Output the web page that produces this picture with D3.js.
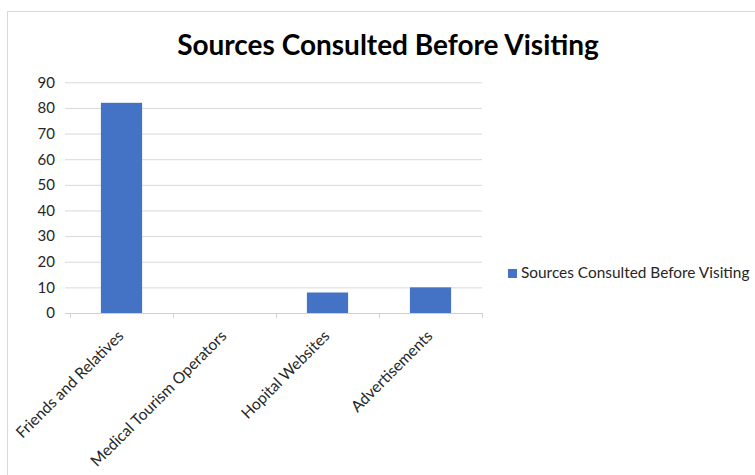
<!DOCTYPE html>
<html>
<head>
<meta charset="utf-8">
<script src="https://cdn.jsdelivr.net/npm/d3@7"></script>
<style>
  html, body { margin: 0; padding: 0; background: #fff; }
  svg { display: block; font-family: Lato, "Open Sans", sans-serif; }
</style>
</head>
<body>
<svg id="chart" width="755" height="475"></svg>
<script>
// Data
const categories = ["Friends and Relatives", "Medical Tourism Operators", "Hopital Websites", "Advertisements"];
const values = [82, 0, 8, 10];
const yTicks = [0, 10, 20, 30, 40, 50, 60, 70, 80, 90];
const seriesName = "Sources Consulted Before Visiting";
const chartTitle = "Sources Consulted Before Visiting";

const FONT = "Lato, 'Open Sans', sans-serif";
const svg = d3.select("#chart");

// Chart frame (extends past the right and bottom edges)
svg.append("rect")
  .attr("x", 7.5).attr("y", 11.5)
  .attr("width", 820).attr("height", 520)
  .attr("fill", "#fff").attr("stroke", "#d9d9d9").attr("stroke-width", 1);

// Plot area
const plot = { left: 70, right: 482, top: 82.3, bottom: 313 };

const x = d3.scaleBand()
  .domain(categories)
  .range([plot.left, plot.right])
  .paddingInner(0.6).paddingOuter(0.3);

const y = d3.scaleLinear()
  .domain([0, 90])
  .range([plot.bottom, plot.top]);

// Horizontal gridlines
const grid = svg.append("g")
  .attr("transform", `translate(${plot.left},0)`)
  .call(d3.axisLeft(y).tickValues(yTicks).tickSize(-(plot.right - plot.left)).tickFormat(""));
grid.select(".domain").remove();
grid.selectAll(".tick line").attr("stroke", "#d9d9d9").attr("stroke-width", 1);

// Value axis: short outside ticks and labels
const yAxis = svg.append("g")
  .attr("transform", `translate(${plot.left},0)`)
  .call(d3.axisLeft(y).tickValues(yTicks).tickSize(5).tickPadding(10).tickFormat(d3.format("d")))
  .attr("font-family", FONT)
  .attr("font-size", 15);
yAxis.select(".domain").remove();
yAxis.selectAll(".tick line").attr("stroke", "#d9d9d9");
yAxis.selectAll(".tick text").attr("fill", "#262626");

// Bars
svg.append("g").selectAll("rect")
  .data(values)
  .join("rect")
  .attr("x", (d, i) => x(categories[i]))
  .attr("width", x.bandwidth())
  .attr("y", d => y(d))
  .attr("height", d => y(0) - y(d))
  .attr("fill", "#4472c4");

// Category axis
const xAxis = svg.append("g")
  .attr("transform", `translate(0,${plot.bottom})`)
  .call(d3.axisBottom(x).tickSize(0).tickPadding(0))
  .attr("font-family", FONT)
  .attr("font-size", 15.6);
xAxis.select(".domain")
  .attr("d", `M${plot.left - 5},0.5H${plot.right}`)
  .attr("stroke", "#d0d0d0");
xAxis.selectAll(".tick text")
  .attr("x", 0).attr("y", 0).attr("dy", 0)
  .attr("text-anchor", "end")
  .attr("transform", "translate(3,24) rotate(-45)")
  .attr("fill", "#262626");

// Tick marks between categories
const step = x.step();
const boundaries = d3.range(categories.length + 1).map(i => plot.left + i * step);
xAxis.append("g").selectAll("line")
  .data(boundaries)
  .join("line")
  .attr("x1", d => Math.round(d) + 0.5).attr("x2", d => Math.round(d) + 0.5)
  .attr("y1", 0).attr("y2", 5)
  .attr("stroke", "#d0d0d0");

// Title
svg.append("text")
  .attr("x", 388).attr("y", 55)
  .attr("text-anchor", "middle")
  .attr("font-family", FONT)
  .attr("font-weight", "bold")
  .attr("font-size", 28)
  .attr("fill", "#000")
  .text(chartTitle);

// Legend
const legend = svg.append("g").attr("transform", "translate(508,269)");
legend.append("rect")
  .attr("width", 9).attr("height", 9)
  .attr("fill", "#4472c4");
legend.append("text")
  .attr("x", 13).attr("y", 9)
  .attr("font-family", FONT)
  .attr("font-size", 15.4)
  .attr("fill", "#262626")
  .text(seriesName);
</script>
</body>
</html>
